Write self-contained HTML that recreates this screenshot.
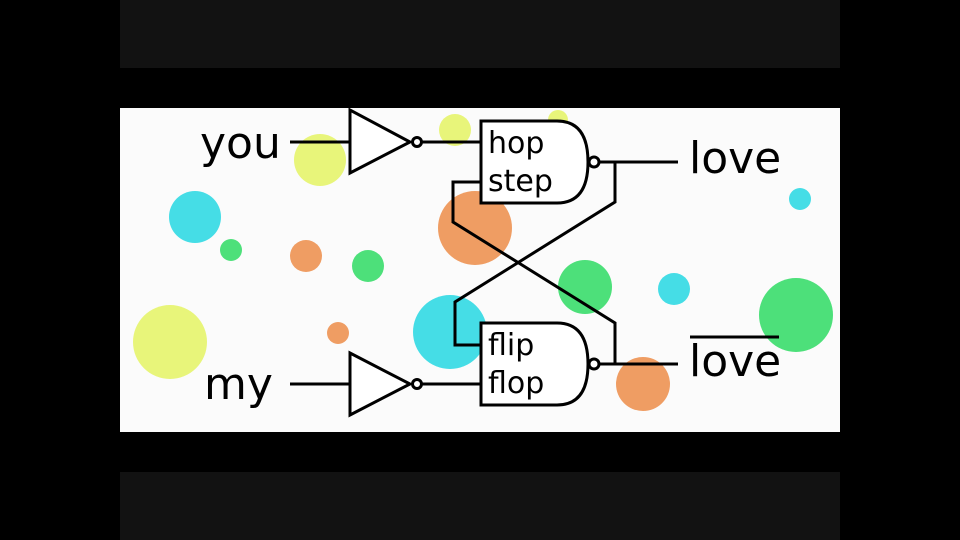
<!DOCTYPE html>
<html><head><style>
html,body{margin:0;padding:0;background:#000;width:960px;height:540px;overflow:hidden}
</style></head><body>
<svg width="960" height="540" xmlns="http://www.w3.org/2000/svg" style="display:block">
<rect width="960" height="540" fill="#000"/>
<rect x="120" y="0" width="720" height="68" fill="#121212"/>
<rect x="120" y="472" width="720" height="68" fill="#121212"/>
<rect x="120" y="108" width="720" height="324" fill="#fbfbfb"/>
<g>
<circle cx="320" cy="160" r="26" fill="#e8f57a"/>
<circle cx="455" cy="130" r="16" fill="#e8f57a"/>
<circle cx="558" cy="120" r="10" fill="#e8f57a"/>
<circle cx="170" cy="342" r="37" fill="#e8f57a"/>
<circle cx="195" cy="217" r="26" fill="#45dde6"/>
<circle cx="674" cy="289" r="16" fill="#45dde6"/>
<circle cx="800" cy="199" r="11" fill="#45dde6"/>
<circle cx="450" cy="332" r="37" fill="#45dde6"/>
<circle cx="231" cy="250" r="11" fill="#4de07a"/>
<circle cx="368" cy="266" r="16" fill="#4de07a"/>
<circle cx="585" cy="287" r="27" fill="#4de07a"/>
<circle cx="796" cy="315" r="37" fill="#4de07a"/>
<circle cx="306" cy="256" r="16" fill="#ef9d63"/>
<circle cx="475" cy="228" r="37" fill="#ef9d63"/>
<circle cx="338" cy="333" r="11" fill="#ef9d63"/>
<circle cx="643" cy="384" r="27" fill="#ef9d63"/>
</g>
<g fill="none" stroke="#000" stroke-width="3">
<line x1="290" y1="142" x2="350" y2="142"/>
<polygon points="350,110 350,173 410,142" fill="#fff"/>
<circle cx="417" cy="142" r="4.5" fill="#fff"/>
<line x1="421.5" y1="142" x2="481" y2="142"/>
<path d="M481,121 H557 Q588,121 588,162 Q588,203 557,203 H481 Z" fill="#fff"/>
<circle cx="594" cy="162" r="5" fill="#fff"/>
<line x1="599" y1="162" x2="678" y2="162"/>
<line x1="290" y1="384" x2="350" y2="384"/>
<polygon points="350,353 350,415 410,384" fill="#fff"/>
<circle cx="417" cy="384" r="4.5" fill="#fff"/>
<line x1="421.5" y1="384" x2="481" y2="384"/>
<path d="M481,323 H557 Q588,323 588,364 Q588,405 557,405 H481 Z" fill="#fff"/>
<circle cx="594" cy="364" r="5" fill="#fff"/>
<line x1="599" y1="364" x2="678" y2="364"/>
<polyline points="615,162 615,202 455,302 455,345 481,345"/>
<polyline points="481,182 453,182 453,222 615,323 615,364"/>
<line x1="690" y1="337" x2="779" y2="337"/>
</g>
<g font-family="DejaVu Sans, Liberation Sans, sans-serif" fill="#000">
<text x="200" y="158" font-size="44">you</text>
<text x="204" y="399" font-size="44">my</text>
<text x="689" y="173" font-size="44">love</text>
<text x="689" y="376" font-size="44">love</text>
<text x="488" y="153" font-size="30">hop</text>
<text x="488" y="191" font-size="30">step</text>
<text x="488" y="355" font-size="30">flip</text>
<text x="488" y="393" font-size="30">flop</text>
</g>
</svg>
</body></html>
